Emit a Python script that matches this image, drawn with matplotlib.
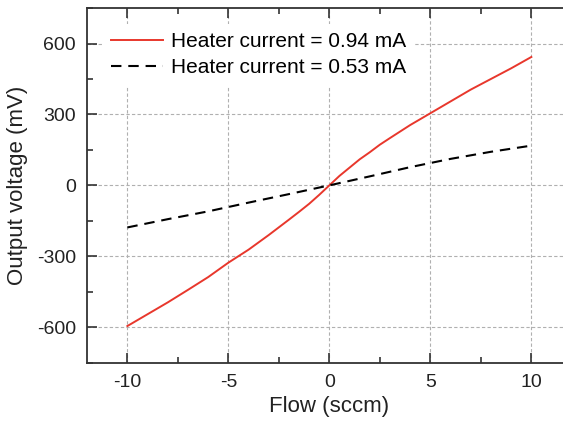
import matplotlib
matplotlib.use("Agg")
import matplotlib.pyplot as plt
from matplotlib.ticker import MultipleLocator

plt.rcParams["font.family"] = ["Liberation Sans", "DejaVu Sans"]
plt.rcParams["axes.unicode_minus"] = False

# Datos
flujo = [-10, -9, -8, -7, -6, -5, -4, -3, -2, -1.5, -1, -0.5, 0,
         0.5, 1, 1.5, 2, 2.5, 3, 4, 5, 6, 7, 8, 9, 10]
v_094 = [-595, -545, -495, -442, -388, -327, -272, -210, -145, -112, -78, -40, 0,
         40, 75, 110, 140, 172, 200, 255, 305, 355, 405, 450, 495, 543]

flujo_053 = [-10, -8, -6, -4, -2, 0, 2, 4, 6, 8, 10]
v_053 = [-178, -143, -110, -73, -37, 0, 38, 77, 112, 142, 168]

etiquetas = ["Heater current = 0.94 mA", "Heater current = 0.53 mA"]

fig = plt.figure(figsize=(5.63, 4.23), dpi=100)
ax = fig.add_axes([0.1545, 0.1426, 1.0155 - 0.1545, 0.981 - 0.1426])

ax.plot(flujo, v_094, color="#e8372c", lw=1.4, label=etiquetas[0], zorder=3)
ax.plot(flujo_053, v_053, color="black", lw=1.5, ls=(0, (5, 3.3)),
        label=etiquetas[1], zorder=3)

ax.set_xlim(-12, 12)
ax.set_ylim(-750, 750)
ax.xaxis.set_major_locator(MultipleLocator(5))
ax.xaxis.set_minor_locator(MultipleLocator(2.5))
ax.yaxis.set_major_locator(MultipleLocator(300))
ax.yaxis.set_minor_locator(MultipleLocator(150))

ax.grid(True, which="major", color="#b0b0b0", ls=(0, (3, 2)), lw=0.8)
ax.tick_params(which="both", direction="in", top=True, right=False,
               colors="#333333", labelcolor="#222222", labelsize=14, pad=8)
ax.tick_params(which="major", length=7, width=1.2)
ax.tick_params(which="minor", length=4, width=1.2)
for lado in ["left", "bottom", "top"]:
    ax.spines[lado].set_linewidth(1.3)
    ax.spines[lado].set_color("#333333")
ax.spines["right"].set_visible(False)

ax.set_xlabel("Flow (sccm)", fontsize=16, color="#222222", labelpad=4)
ax.set_ylabel("Output voltage (mV)", fontsize=16, color="#222222", labelpad=6)

leg = ax.legend(loc="upper left", fontsize=15, frameon=True, framealpha=1,
                facecolor="white", edgecolor="none", handlelength=2.5,
                handletextpad=0.4, borderaxespad=0.75, labelspacing=0.35,
                fancybox=False)
leg.set_zorder(4)

fig.savefig("out.png", dpi=100)
